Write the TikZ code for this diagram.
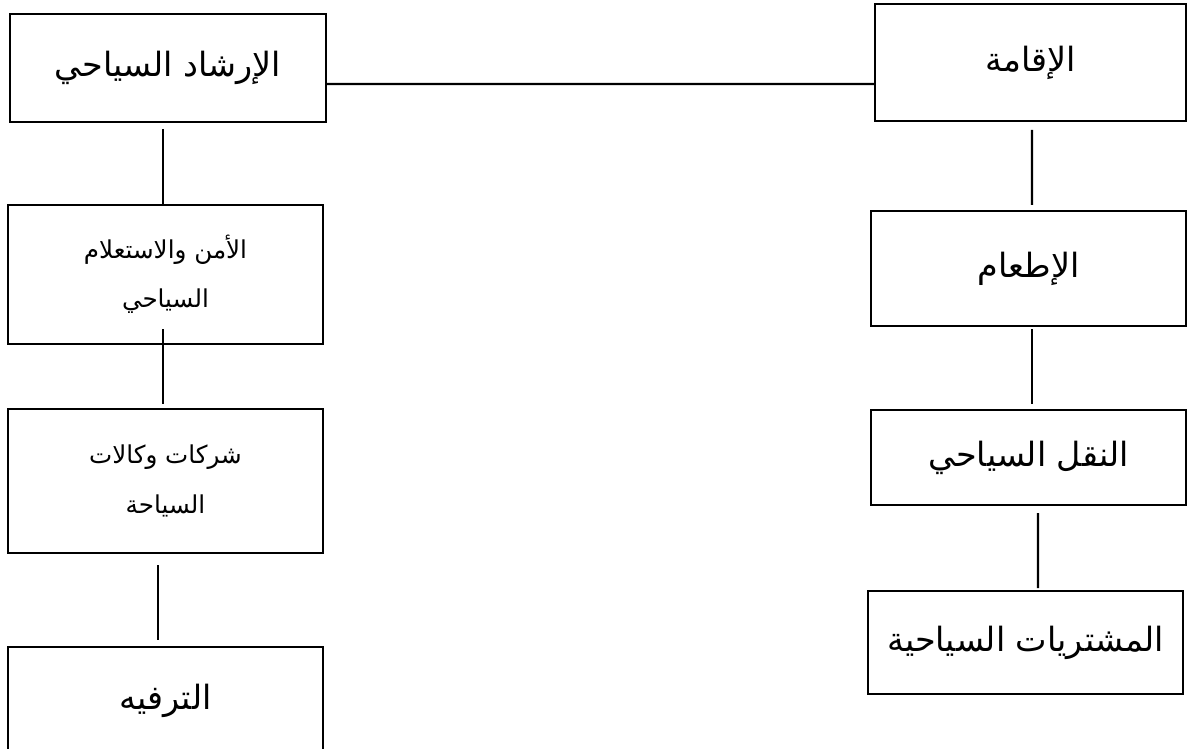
\documentclass[tikz,border=0pt]{standalone}
\usepackage{fontspec}
\usetikzlibrary{calc}
\TeXXeTstate=1
\newfontfamily\arabicfont[Script=Arabic]{DejaVu Sans}
\begin{document}
\begin{tikzpicture}[>=latex,
  box/.style={draw,line width=1.3pt,inner sep=0pt,outer sep=0pt,minimum width=6.3cm,align=center,
    font=\arabicfont\fontsize{19}{22}\selectfont},
  small/.style={font=\arabicfont\fontsize{14}{28}\selectfont},
  link/.style={line width=1.2pt}]
\useasboundingbox (0,0) rectangle (23.74,-14.96);
\clip (0,0) rectangle (23.74,-14.96);
\node[box,minimum width=6.32cm,minimum height=2.16cm] (irshad) at (3.36,-1.36) {\beginR الإرشاد السياحي\endR};
\node[box,minimum width=6.22cm,minimum height=2.34cm] (iqama) at (20.61,-1.25) {\beginR الإقامة\endR};
\node[box,small,minimum height=2.78cm] (amn) at (3.31,-5.49) {\beginR الأمن والاستعلام\endR\\\beginR السياحي\endR};
\node[box,small,minimum height=2.88cm] (wakalat) at (3.31,-9.62) {\beginR شركات وكالات\endR\\\beginR السياحة\endR};
\node[box,minimum height=2.14cm] (tarfih) at (3.31,-14.01) {\beginR الترفيه\endR};
\node[box,minimum height=2.3cm] (itaam) at (20.57,-5.37) {\beginR الإطعام\endR};
\node[box,minimum height=1.9cm] (naql) at (20.57,-9.15) {\beginR النقل السياحي\endR};
\node[box,minimum height=2.06cm] (mushtarayat) at (20.51,-12.85) {\beginR المشتريات السياحية\endR};
\draw[link] ($(irshad.east)+(0,-.32)$) -- ($(iqama.west)+(0,-.43)$);
\draw[link] ($(irshad.south)+(-.1,-.14)$) -- ($(amn.north)+(-.05,0)$);
\draw[link] ($(amn.south)+(-.05,.3)$) -- ($(wakalat.north)+(-.05,.1)$);
\draw[link] ($(wakalat.south)+(-.15,-.24)$) -- ($(tarfih.north)+(-.15,.14)$);
\draw[link] ($(iqama.south)+(.03,-.18)$) -- ($(itaam.north)+(.07,.12)$);
\draw[link] ($(itaam.south)+(.07,-.06)$) -- ($(naql.north)+(.07,.12)$);
\draw[link] ($(naql.south)+(.19,-.16)$) -- ($(mushtarayat.north)+(.25,.06)$);
\end{tikzpicture}
\end{document}
